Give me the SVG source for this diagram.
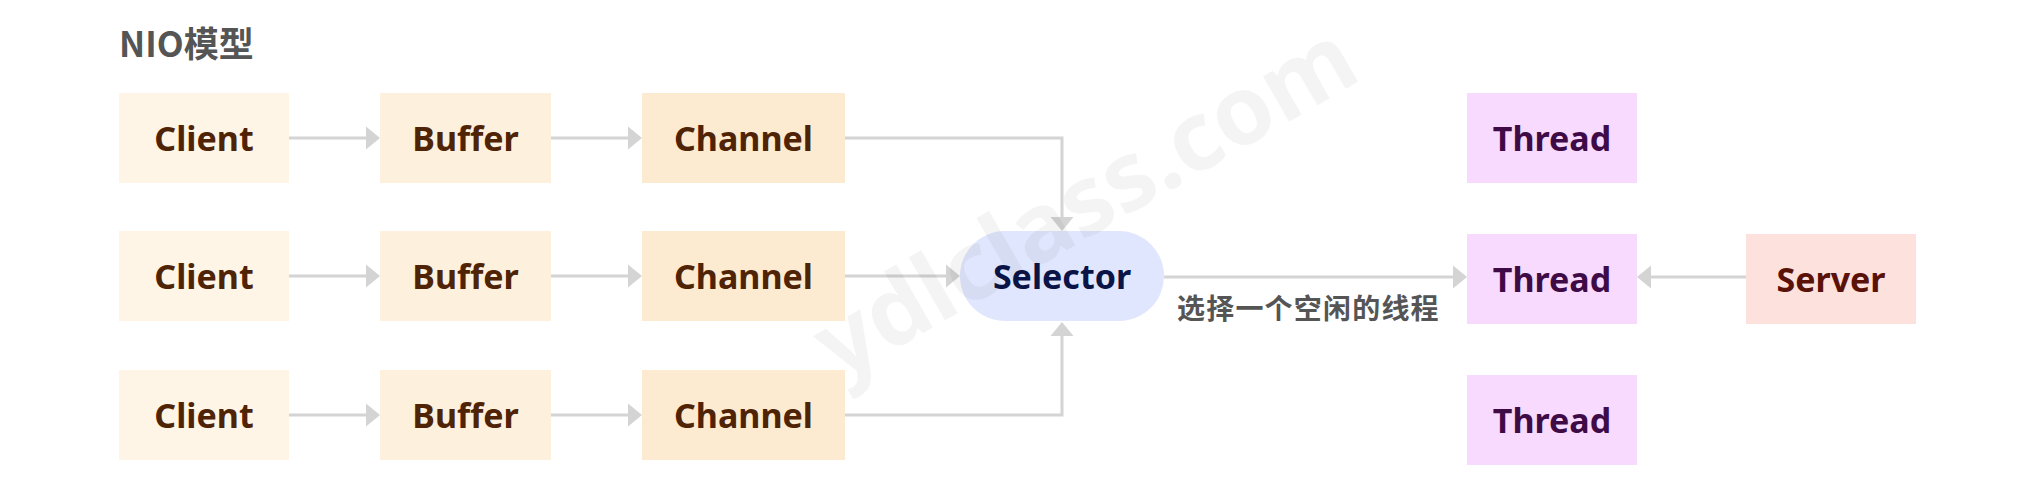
<svg xmlns="http://www.w3.org/2000/svg" width="2034" height="486" viewBox="0 0 2034 486">
<defs>
<marker id="arr" markerUnits="userSpaceOnUse" markerWidth="15" markerHeight="24" refX="0" refY="11.5" orient="auto" viewBox="0 0 15 24" overflow="visible">
<path d="M0,0 L14,11.5 L0,23 Z" fill="#d4d4d4"/>
</marker>
</defs>
<style>
.t{font-family:"Noto Sans","Noto Sans CJK SC",sans-serif;font-weight:700;font-size:34px;text-anchor:middle}
.cl{fill:#fef5e6}.bf{fill:#fdf0dc}.ch{fill:#fdebd1}.th{fill:#f7dafd}.sv{fill:#fde1dd}.se{fill:#e0e6fd}
.brown{fill:#4f2306}.purple{fill:#3f0b47}.red{fill:#5a1108}.navy{fill:#0b1446}
.ln{fill:none;stroke:#d4d4d4;stroke-width:3;marker-end:url(#arr)}
.lab{font-family:"Noto Sans CJK SC","Noto Sans",sans-serif;font-weight:700;fill:#555555}
</style>
<rect width="2034" height="486" fill="#ffffff"/>
<text class="lab" x="119" y="57" font-size="35">NIO模型</text>

<g id="client1"><rect class="cl" x="119" y="93" width="170" height="90"/><text class="t brown" x="204" y="151">Client</text></g>
<g id="client2"><rect class="cl" x="119" y="231" width="170" height="90"/><text class="t brown" x="204" y="289">Client</text></g>
<g id="client3"><rect class="cl" x="119" y="370" width="170" height="90"/><text class="t brown" x="204" y="428">Client</text></g>

<g id="buffer1"><rect class="bf" x="380" y="93" width="171" height="90"/><text class="t brown" x="465.5" y="151">Buffer</text></g>
<g id="buffer2"><rect class="bf" x="380" y="231" width="171" height="90"/><text class="t brown" x="465.5" y="289">Buffer</text></g>
<g id="buffer3"><rect class="bf" x="380" y="370" width="171" height="90"/><text class="t brown" x="465.5" y="428">Buffer</text></g>

<g id="channel1"><rect class="ch" x="642" y="93" width="203" height="90"/><text class="t brown" x="743.5" y="151">Channel</text></g>
<g id="channel2"><rect class="ch" x="642" y="231" width="203" height="90"/><text class="t brown" x="743.5" y="289">Channel</text></g>
<g id="channel3"><rect class="ch" x="642" y="370" width="203" height="90"/><text class="t brown" x="743.5" y="428">Channel</text></g>

<g id="selector"><rect class="se" x="960" y="231" width="204" height="90" rx="45" ry="45"/><text class="t navy" x="1062" y="289">Selector</text></g>

<g id="thread1"><rect class="th" x="1467" y="93" width="170" height="90"/><text class="t purple" x="1552" y="151">Thread</text></g>
<g id="thread2"><rect class="th" x="1467" y="234" width="170" height="90"/><text class="t purple" x="1552" y="292">Thread</text></g>
<g id="thread3"><rect class="th" x="1467" y="375" width="170" height="90"/><text class="t purple" x="1552" y="433">Thread</text></g>

<g id="server"><rect class="sv" x="1746" y="234" width="170" height="90"/><text class="t red" x="1831" y="292">Server</text></g>

<g id="connectors">
<path class="ln" d="M289,138 H366"/>
<path class="ln" d="M289,276 H366"/>
<path class="ln" d="M289,415 H366"/>
<path class="ln" d="M551,138 H628"/>
<path class="ln" d="M551,276 H628"/>
<path class="ln" d="M551,415 H628"/>
<path class="ln" d="M845,138 H1062 V217"/>
<path class="ln" d="M845,276 H946"/>
<path class="ln" d="M845,415 H1062 V336"/>
<path class="ln" d="M1164,277 H1453"/>
<path class="ln" d="M1746,277 H1651"/>
<text class="lab" x="1177" y="319" font-size="28" letter-spacing="1.2">选择一个空闲的线程</text>
</g>

<text x="1087" y="234" transform="rotate(-30 1087 205)" text-anchor="middle" font-family="Noto Sans, sans-serif" font-weight="700" font-size="96" fill="#000000" fill-opacity="0.045">ydlclass.com</text>
</svg>
